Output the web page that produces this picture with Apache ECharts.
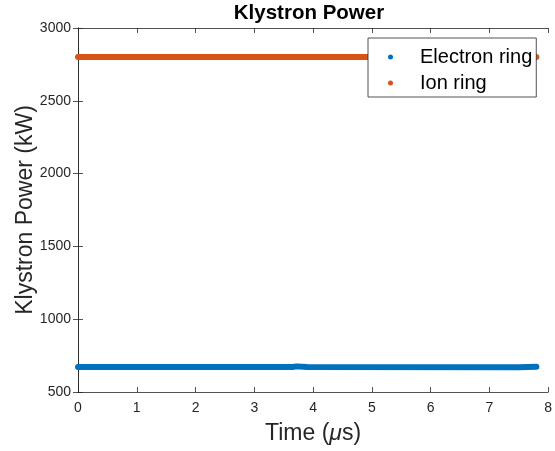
<!DOCTYPE html>
<html>
<head>
<meta charset="utf-8">
<script src="https://cdn.jsdelivr.net/npm/echarts@6/dist/echarts.min.js"></script>
<style>
  html, body { margin: 0; padding: 0; background: #fff; }
  #chart { width: 555px; height: 451px; }
</style>
</head>
<body>
<div id="chart"></div>
<script>
// Klystron power traces for both rings over one revolution
const electronTime = [0, 3.65, 3.72, 3.9, 7.5, 7.8];
const electronPower = [672, 672, 676, 671, 670, 673];
const ionTime = [0, 7.8];
const ionPower = [2800, 2800];
const xTicks = [0, 1, 2, 3, 4, 5, 6, 7, 8];
const yTicks = [500, 1000, 1500, 2000, 2500, 3000];

const FONT = 'Liberation Sans, Arial, sans-serif';
const BLUE = '#0072BD';
const ORANGE = '#D95319';

const toPairs = (xs, ys) => xs.map((x, i) => [x, ys[i]]);

const chart = echarts.init(document.getElementById('chart'), null, { renderer: 'canvas' });

const tickStyle = { show: true, inside: true, length: 5, lineStyle: { color: '#262626', width: 0.8 } };
const lineStyle = { show: true, lineStyle: { color: '#262626', width: 0.8 } };
const plainNumber = v => String(v);

chart.setOption({
  animation: false,
  title: {
    text: 'Klystron Power',
    left: 304, top: -2, textAlign: 'center',
    textStyle: { fontFamily: FONT, fontSize: 20.5, fontWeight: 'bold', color: '#000' }
  },
  grid: { left: 78, right: 6, top: 28, bottom: 59, containLabel: false },
  legend: {
    left: 368, top: 38,
    orient: 'vertical',
    backgroundColor: '#fff',
    borderColor: '#262626', borderWidth: 0.8,
    padding: [9, 4, 4, 20],
    itemGap: 6,
    itemWidth: 5, itemHeight: 5,
    icon: 'circle',
    textStyle: { fontFamily: FONT, fontSize: 20, color: '#000', padding: [0, 0, 0, 22] },
    data: ['Electron ring', 'Ion ring']
  },
  xAxis: [{
    type: 'value', min: xTicks[0], max: xTicks[xTicks.length - 1], interval: 1,
    name: 'Time ({i|μ}s)', nameLocation: 'middle', nameGap: 30,
    nameTextStyle: {
      fontFamily: FONT, fontSize: 23, color: '#262626',
      rich: { i: { fontFamily: FONT, fontSize: 23, fontStyle: 'italic', color: '#262626' } }
    },
    axisLine: lineStyle, axisTick: tickStyle, splitLine: { show: false },
    axisLabel: { fontFamily: FONT, fontSize: 14, color: '#262626', margin: 9, formatter: plainNumber }
  }, {
    type: 'value', position: 'top', min: xTicks[0], max: xTicks[xTicks.length - 1], interval: 1,
    axisLine: lineStyle, axisTick: tickStyle, axisLabel: { show: false }, splitLine: { show: false }
  }],
  yAxis: [{
    type: 'value', min: yTicks[0], max: yTicks[yTicks.length - 1], interval: 500,
    name: 'Klystron Power (kW)', nameLocation: 'middle', nameGap: 41, nameMoveOverlap: false,
    nameTextStyle: { fontFamily: FONT, fontSize: 23, color: '#262626' },
    axisLine: lineStyle, axisTick: tickStyle, splitLine: { show: false },
    axisLabel: { fontFamily: FONT, fontSize: 14, color: '#262626', margin: 7, formatter: plainNumber }
  }, {
    type: 'value', position: 'right', min: yTicks[0], max: yTicks[yTicks.length - 1], interval: 500,
    axisLine: lineStyle, axisTick: tickStyle, axisLabel: { show: false }, splitLine: { show: false }
  }],
  series: [{
    name: 'Electron ring', type: 'line',
    data: toPairs(electronTime, electronPower),
    showSymbol: false, symbol: 'circle',
    itemStyle: { color: BLUE },
    lineStyle: { color: BLUE, width: 6, cap: 'round', join: 'round' }
  }, {
    name: 'Ion ring', type: 'line',
    data: toPairs(ionTime, ionPower),
    showSymbol: false, symbol: 'circle',
    itemStyle: { color: ORANGE },
    lineStyle: { color: ORANGE, width: 6, cap: 'round', join: 'round' }
  }]
});
</script>
</body>
</html>
